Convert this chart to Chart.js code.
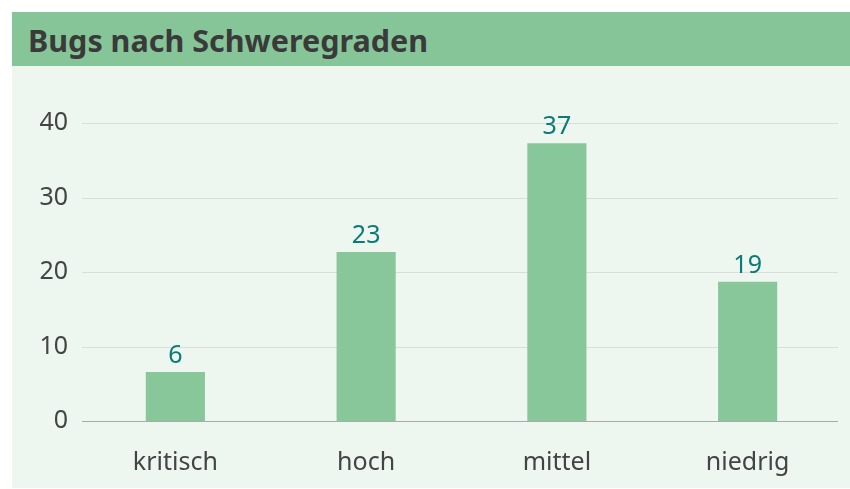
<!DOCTYPE html>
<html lang="de">
<head>
<meta charset="utf-8">
<title>Bugs nach Schweregraden</title>
<script src="https://cdn.jsdelivr.net/npm/chart.js@4.4.1/dist/chart.umd.min.js"></script>
<style>
  html, body { margin: 0; padding: 0; background: #ffffff; }
  body { width: 850px; height: 489px; position: relative; overflow: hidden; font-family: 'Noto Sans', sans-serif; }
  .panel { position: absolute; left: 12px; top: 12px; width: 838px; height: 476px; background: #eef6f0; }
  .panel h1 {
    margin: 0; height: 54px; padding-left: 16px; overflow: hidden;
    background: #86c597; color: #3a3a3a;
    font: 700 30.5px 'Noto Sans', sans-serif;
    line-height: 56px;
  }
  .chart-box { position: relative; width: 838px; height: 422px; }
</style>
</head>
<body>
<div class="panel">
  <h1>Bugs nach Schweregraden</h1>
  <div class="chart-box"><canvas id="bugs"></canvas></div>
</div>
<script>
// ── Data ────────────────────────────────────────────────
const categories  = ['kritisch', 'hoch', 'mittel', 'niedrig'];
const bugCounts   = [6.6, 22.7, 37.3, 18.7];   // bar heights as drawn
const countLabels = ['6', '23', '37', '19'];   // printed value labels
const yTicks      = [0, 10, 20, 30, 40];

const BAR   = '#88c799';
const TEAL  = '#0b7b76';
const INK   = '#444444';
const FONT  = "'Noto Sans', sans-serif";

// ── Grid lines (slightly inset from the category band edges) ──
const gridLines = {
  id: 'gridLines',
  beforeDatasetsDraw(chart) {
    const { ctx, chartArea, scales } = chart;
    ctx.save();
    ctx.lineWidth = 1;
    yTicks.forEach(v => {
      const y = Math.round(scales.y.getPixelForValue(v)) + 0.5;
      ctx.strokeStyle = v === 0 ? '#aaaaaa' : '#dcdcdc';
      ctx.beginPath();
      ctx.moveTo(chartArea.left + 2, y);
      ctx.lineTo(chartArea.right - 5, y);
      ctx.stroke();
    });
    ctx.restore();
  }
};

// ── Value labels above bars ─────────────────────────────
const valueLabels = {
  id: 'valueLabels',
  afterDatasetsDraw(chart) {
    const ctx = chart.ctx;
    const meta = chart.getDatasetMeta(0);
    ctx.save();
    ctx.font = `25px ${FONT}`;
    ctx.fillStyle = TEAL;
    ctx.textAlign = 'center';
    ctx.textBaseline = 'alphabetic';
    meta.data.forEach((bar, i) => {
      ctx.fillText(countLabels[i], bar.x, bar.y - 9);
    });
    ctx.restore();
  }
};

new Chart(document.getElementById('bugs'), {
  type: 'bar',
  data: {
    labels: categories,
    datasets: [{
      data: bugCounts,
      backgroundColor: BAR,
      borderWidth: 0,
      categoryPercentage: 1,
      barPercentage: 0.31,
    }],
  },
  options: {
    responsive: true,
    maintainAspectRatio: false,
    animation: false,
    layout: { padding: { top: 57, right: 7, left: 0, bottom: 0 } },
    plugins: {
      legend:  { display: false },
      tooltip: { enabled: false },
    },
    scales: {
      x: {
        grid:   { display: false },
        border: { display: false },
        ticks:  { color: INK, padding: 19, font: { family: FONT, size: 25 } },
        afterFit: s => { s.height = 66.7; },
      },
      y: {
        min: 0, max: 40,
        afterBuildTicks: s => { s.ticks = yTicks.map(v => ({ value: v })); },
        grid:   { display: false, drawTicks: false },
        border: { display: false },
        ticks:  { color: INK, padding: 12, font: { family: FONT, size: 25 } },
        afterFit: s => { s.width = 68; },
      },
    },
  },
  plugins: [gridLines, valueLabels],
});
</script>
</body>
</html>
